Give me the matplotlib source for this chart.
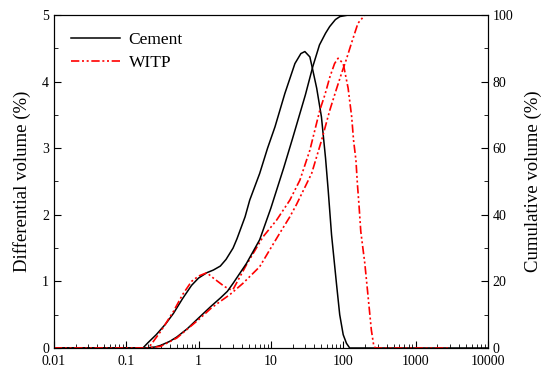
import matplotlib
matplotlib.use("Agg")
import matplotlib.pyplot as plt
from matplotlib.ticker import LogLocator, MultipleLocator, FixedLocator, NullFormatter

plt.rcParams['font.family'] = ['Liberation Serif', 'DejaVu Serif']

# particle size (um) and differential volume (%) - cement
cem_d_x = [0.01, 0.17, 0.2, 0.26, 0.35, 0.45, 0.6, 0.8, 1.0, 1.3, 1.6, 2.0, 2.4, 3.0, 3.4,
           4.4, 5.1, 7.0, 9.0, 11.4, 15.6, 21.5, 26.0, 29.5, 34.6, 38.0, 43.0, 50.0, 57.0,
           62.0, 69.0, 81.0, 89.5, 100.0, 111.0, 123.0, 10000]
cem_d_y = [0.0, 0.0, 0.08, 0.2, 0.36, 0.52, 0.74, 0.94, 1.05, 1.13, 1.17, 1.23, 1.33, 1.5, 1.64,
           1.97, 2.22, 2.62, 3.0, 3.32, 3.82, 4.27, 4.42, 4.45, 4.37, 4.17, 3.9, 3.47, 2.85,
           2.37, 1.7, 0.95, 0.5, 0.2, 0.07, 0.0, 0.0]

# cumulative volume (%) - cement
cem_c_x = [0.01, 0.18, 0.25, 0.3, 0.4, 0.5, 0.7, 1.0, 1.5, 2.0, 2.5, 3.0, 4.6, 7.0, 10.0,
           15.0, 20.0, 30.0, 38.0, 47.0, 57.0, 65.0, 78.0, 90.0, 120.0, 10000]
cem_c_y = [0.0, 0.0, 0.3, 0.8, 2.0, 3.3, 5.8, 9.0, 12.6, 15.0, 17.0, 19.4, 25.4, 32.5, 42.0,
           54.0, 63.0, 76.0, 84.5, 91.0, 94.5, 96.5, 98.6, 99.5, 100.0, 100.0]

# differential volume (%) - WITP
witp_d_x = [0.01, 0.2, 0.22, 0.3, 0.45, 0.6, 0.8, 1.0, 1.3, 1.6, 2.3, 2.85, 3.0, 4.6, 7.8,
            12.0, 18.3, 25.2, 34.6, 47.5, 55.8, 65.5, 76.0, 85.0, 100.0, 117.0, 131.0, 139.0,
            150.0, 157.0, 166.0, 175.0, 199.0, 221.0, 245.0, 265.0, 280.0, 3000]
witp_d_y = [0.0, 0.0, 0.05, 0.25, 0.55, 0.8, 1.0, 1.08, 1.13, 1.05, 0.92, 0.87, 0.88, 1.25, 1.67,
            1.92, 2.22, 2.52, 2.97, 3.57, 3.8, 4.07, 4.27, 4.35, 4.27, 3.9, 3.47, 3.12,
            2.82, 2.47, 2.12, 1.75, 1.27, 0.77, 0.27, 0.03, 0.0, 0.0]

# cumulative volume (%) - WITP
witp_c_x = [0.01, 0.2, 0.3, 0.5, 1.0, 1.5, 2.0, 2.7, 4.1, 7.0, 9.6, 13.2, 18.3, 22.5, 36.6,
            50.3, 65.5, 80.0, 95.0, 110.0, 130.0, 160.0, 200.0, 3000]
witp_c_y = [0.0, 0.0, 0.5, 3.0, 8.5, 12.0, 14.0, 16.0, 19.4, 24.4, 29.4, 34.4, 39.4, 43.0, 52.4,
            62.4, 71.5, 77.5, 82.5, 86.5, 91.5, 97.5, 100.0, 100.0]

red_ls = (0, (5, 1.6, 1.2, 1.6, 1.2, 1.6))

fig = plt.figure(figsize=(5.5, 3.73), dpi=100)
ax = fig.add_axes([0.098, 0.067, 0.789, 0.893])
ax2 = ax.twinx()

ax.plot(cem_d_x, cem_d_y, color='black', lw=1.1, label='Cement')
ax.plot(witp_d_x, witp_d_y, color='red', lw=1.2, ls=red_ls, label='WITP')
ax2.plot(cem_c_x, cem_c_y, color='black', lw=1.1)
ax2.plot(witp_c_x, witp_c_y, color='red', lw=1.2, ls=red_ls)

ax.set_xscale('log')
ax.set_xlim(0.01, 10000)
ax.set_ylim(0, 5)
ax2.set_ylim(0, 100)

ax.set_xticks([0.01, 0.1, 1, 10, 100, 1000, 10000])
ax.set_xticklabels(['0.01', '0.1', '1', '10', '100', '1000', '10000'])
ax.xaxis.set_minor_locator(LogLocator(base=10, subs=range(2, 10), numticks=20))
ax.xaxis.set_minor_formatter(NullFormatter())
ax.yaxis.set_major_locator(MultipleLocator(1))
ax.yaxis.set_minor_locator(MultipleLocator(0.5))
ax2.yaxis.set_major_locator(MultipleLocator(20))
ax2.yaxis.set_minor_locator(MultipleLocator(10))

ax.tick_params(axis='x', which='both', direction='in', top=False, labelsize=10, pad=5)
ax.tick_params(axis='x', which='major', length=5)
ax.tick_params(axis='x', which='minor', length=3)
ax.tick_params(axis='y', which='both', direction='in', right=False, labelsize=10)
ax.tick_params(axis='y', which='major', length=5)
ax.tick_params(axis='y', which='minor', length=3)
ax2.tick_params(axis='y', which='both', direction='in', labelsize=10)
ax2.tick_params(axis='y', which='major', length=5)
ax2.tick_params(axis='y', which='minor', length=3)

ax.set_ylabel('Differential volume (%)', fontsize=13.5, labelpad=8)
ax2.set_ylabel('Cumulative volume (%)', fontsize=13.5, labelpad=8)

ax.legend(loc='upper left', frameon=False, fontsize=12.5, handlelength=2.8,
          handletextpad=0.5, borderaxespad=0.6, labelspacing=0.35)

fig.savefig('out.png', dpi=100)
